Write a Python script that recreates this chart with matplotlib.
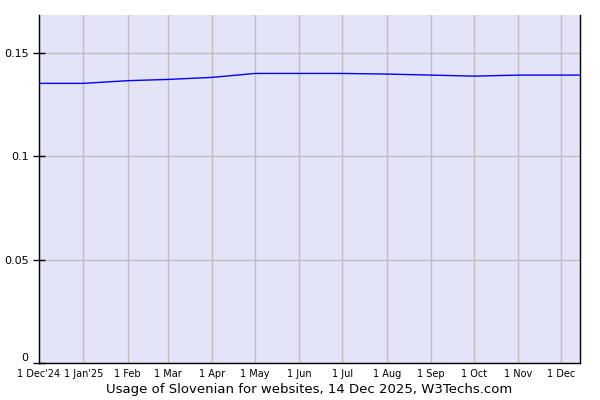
import datetime as dt

import matplotlib

matplotlib.use("Agg")
import matplotlib.pyplot as plt
import matplotlib.transforms as mtransforms

DATES = [
    "2024-12-01", "2025-01-01", "2025-02-01", "2025-03-01", "2025-04-01",
    "2025-05-01", "2025-06-01", "2025-07-01", "2025-08-01", "2025-09-01",
    "2025-10-01", "2025-11-01", "2025-12-01", "2025-12-14",
]
USAGE = [
    0.1354, 0.1354, 0.1367, 0.1373, 0.1383,
    0.1402, 0.1402, 0.1402, 0.1399, 0.1394,
    0.1389, 0.1394, 0.1394, 0.1394,
]
TICK_DATES = DATES[:-1]
TICK_LABELS = [
    "1 Dec'24", "1 Jan'25", "1 Feb", "1 Mar", "1 Apr", "1 May", "1 Jun",
    "1 Jul", "1 Aug", "1 Sep", "1 Oct", "1 Nov", "1 Dec",
]
Y_TICKS = [0, 0.05, 0.1, 0.15]
Y_LABELS = ["0", "0.05", "0.1", "0.15"]
TITLE = "Usage of Slovenian for websites, 14 Dec 2025, W3Techs.com"


def to_dt(s):
    return dt.datetime.strptime(s, "%Y-%m-%d")


x = [to_dt(d) for d in DATES]
ticks = [to_dt(d) for d in TICK_DATES]

fig = plt.figure(figsize=(6, 4), dpi=100)
ax = fig.add_axes([0.065, 0.0925, 0.9017, 0.87])
ax.set_facecolor("#e4e4f8")

ax.plot(x, USAGE, color="#0000ff", lw=1.0, zorder=3)

ax.set_xlim(x[0], x[-1])
ax.set_ylim(0, 0.1685)

ax.set_xticks(ticks)
ax.set_xticklabels(TICK_LABELS, fontsize=7)
ax.set_yticks(Y_TICKS)
ax.set_yticklabels(Y_LABELS, fontsize=8)
ax.tick_params(axis="x", length=0, pad=4)
ax.tick_params(axis="y", direction="inout", length=9, width=1, pad=3)

# the "0" label sits a little higher so it clears the first date label
lbl0 = ax.get_yticklabels()[0]
lbl0.set_transform(lbl0.get_transform()
                   + mtransforms.ScaledTranslation(0, 4 / 72, fig.dpi_scale_trans))

ax.grid(True, color="#bdbdbd", lw=1, zorder=1)
ax.set_axisbelow(True)

for side in ("left", "bottom", "right"):
    ax.spines[side].set_color("black")
    ax.spines[side].set_linewidth(1)
ax.spines["top"].set_visible(False)

ax.set_xlabel(TITLE, fontsize=9.5, labelpad=3)

fig.savefig("out.png", dpi=100)
